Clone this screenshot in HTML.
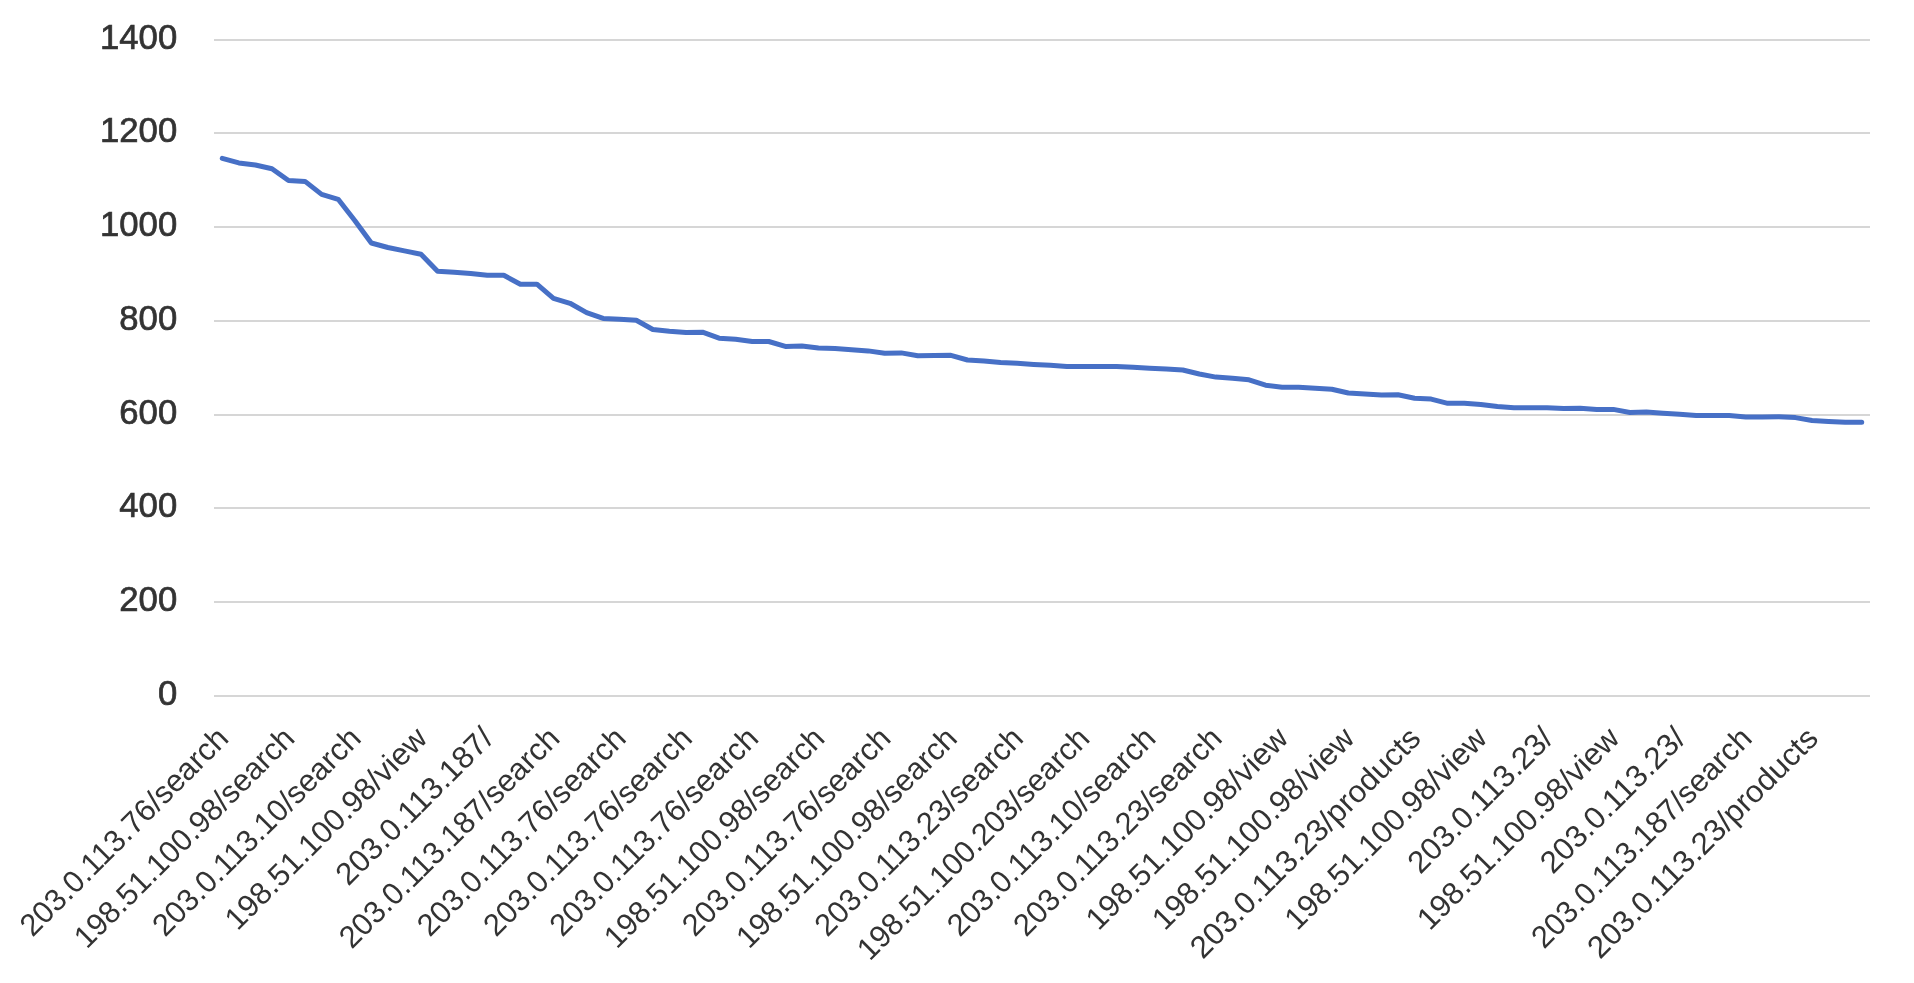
<!DOCTYPE html>
<html><head><meta charset="utf-8"><title>Chart</title><style>
html,body{margin:0;padding:0;background:#fff;width:1914px;height:983px;overflow:hidden}
svg{display:block;will-change:transform}
text{font-family:"Liberation Sans",sans-serif;fill:#333333;stroke:#333333}
</style></head><body>
<svg width="1914" height="983" viewBox="0 0 1914 983">
<rect width="1914" height="983" fill="#fff"/>
<rect x="214" y="695" width="1656" height="2" fill="#d6d6d6"/>
<rect x="214" y="601" width="1656" height="2" fill="#d6d6d6"/>
<rect x="214" y="507" width="1656" height="2" fill="#d6d6d6"/>
<rect x="214" y="414" width="1656" height="2" fill="#d6d6d6"/>
<rect x="214" y="320" width="1656" height="2" fill="#d6d6d6"/>
<rect x="214" y="226" width="1656" height="2" fill="#d6d6d6"/>
<rect x="214" y="132" width="1656" height="2" fill="#d6d6d6"/>
<rect x="214" y="39" width="1656" height="2" fill="#d6d6d6"/>
<text transform="translate(177.2,704.6) scale(1.0,1)" text-anchor="end" font-size="34.7" stroke-width="0.7">0</text>
<text transform="translate(177.2,610.9) scale(1.0,1)" text-anchor="end" font-size="34.7" stroke-width="0.7">200</text>
<text transform="translate(177.2,517.2) scale(1.0,1)" text-anchor="end" font-size="34.7" stroke-width="0.7">400</text>
<text transform="translate(177.2,423.5) scale(1.0,1)" text-anchor="end" font-size="34.7" stroke-width="0.7">600</text>
<text transform="translate(177.2,329.8) scale(1.0,1)" text-anchor="end" font-size="34.7" stroke-width="0.7">800</text>
<text transform="translate(177.2,236.1) scale(1.0,1)" text-anchor="end" font-size="34.7" stroke-width="0.7">1000</text>
<text transform="translate(177.2,142.4) scale(1.0,1)" text-anchor="end" font-size="34.7" stroke-width="0.7">1200</text>
<text transform="translate(177.2,48.6) scale(1.0,1)" text-anchor="end" font-size="34.7" stroke-width="0.7">1400</text>
<polyline points="222.28,158.4 238.84,162.9 255.40,165.0 271.96,168.7 288.52,180.5 305.08,181.4 321.64,194.4 338.20,199.3 354.76,220.5 371.32,243.0 387.88,247.5 404.44,250.9 421.00,254.2 437.56,271.2 454.12,272.2 470.68,273.5 487.24,275.3 503.80,275.3 520.36,284.3 536.92,284.2 553.48,298.4 570.04,303.3 586.60,312.6 603.16,318.4 619.72,319.3 636.28,320.2 652.84,329.5 669.40,331.3 685.96,332.6 702.52,332.2 719.08,338.2 735.64,339.3 752.20,341.5 768.76,341.5 785.32,346.4 801.88,346.0 818.44,348.1 835.00,348.6 851.56,349.7 868.12,350.9 884.68,353.3 901.24,352.9 917.80,355.8 934.36,355.6 950.92,355.3 967.48,360.0 984.04,360.9 1000.60,362.4 1017.16,363.3 1033.72,364.4 1050.28,365.3 1066.84,366.5 1083.40,366.5 1099.96,366.5 1116.52,366.4 1133.08,367.3 1149.64,368.2 1166.20,369.1 1182.76,370.0 1199.32,374.0 1215.88,377.1 1232.44,378.2 1249.00,379.8 1265.56,385.2 1282.12,387.2 1298.68,387.2 1315.24,388.3 1331.80,389.2 1348.36,393.0 1364.92,393.9 1381.48,395.0 1398.04,394.8 1414.60,398.2 1431.16,399.1 1447.72,403.3 1464.28,403.3 1480.84,404.4 1497.40,406.5 1513.96,407.7 1530.52,407.7 1547.08,407.7 1563.64,408.6 1580.20,408.3 1596.76,409.4 1613.32,409.4 1629.88,412.5 1646.44,412.1 1663.00,413.2 1679.56,414.3 1696.12,415.6 1712.68,415.6 1729.24,415.6 1745.80,416.9 1762.36,416.9 1778.92,416.7 1795.48,417.6 1812.04,420.5 1828.60,421.4 1845.16,422.3 1861.72,422.3" fill="none" stroke="#4770C6" stroke-width="5.0" stroke-linejoin="round" stroke-linecap="round"/>
<text transform="translate(230.13,740.15) rotate(-45)" text-anchor="end" font-size="31.0" stroke-width="0" textLength="279.6" lengthAdjust="spacingAndGlyphs">203.0.113.76/search</text>
<text transform="translate(296.37,740.15) rotate(-45)" text-anchor="end" font-size="31.0" stroke-width="0" textLength="296.5" lengthAdjust="spacingAndGlyphs">198.51.100.98/search</text>
<text transform="translate(362.61,740.15) rotate(-45)" text-anchor="end" font-size="31.0" stroke-width="0" textLength="279.6" lengthAdjust="spacingAndGlyphs">203.0.113.10/search</text>
<text transform="translate(428.85,740.15) rotate(-45)" text-anchor="end" font-size="31.0" stroke-width="0" textLength="270.7" lengthAdjust="spacingAndGlyphs">198.51.100.98/view</text>
<text transform="translate(495.09,740.15) rotate(-45)" text-anchor="end" font-size="31.0" stroke-width="0" textLength="207.5" lengthAdjust="spacingAndGlyphs">203.0.113.187/</text>
<text transform="translate(561.33,740.15) rotate(-45)" text-anchor="end" font-size="31.0" stroke-width="0" textLength="296.5" lengthAdjust="spacingAndGlyphs">203.0.113.187/search</text>
<text transform="translate(627.57,740.15) rotate(-45)" text-anchor="end" font-size="31.0" stroke-width="0" textLength="279.6" lengthAdjust="spacingAndGlyphs">203.0.113.76/search</text>
<text transform="translate(693.81,740.15) rotate(-45)" text-anchor="end" font-size="31.0" stroke-width="0" textLength="279.6" lengthAdjust="spacingAndGlyphs">203.0.113.76/search</text>
<text transform="translate(760.05,740.15) rotate(-45)" text-anchor="end" font-size="31.0" stroke-width="0" textLength="279.6" lengthAdjust="spacingAndGlyphs">203.0.113.76/search</text>
<text transform="translate(826.29,740.15) rotate(-45)" text-anchor="end" font-size="31.0" stroke-width="0" textLength="296.5" lengthAdjust="spacingAndGlyphs">198.51.100.98/search</text>
<text transform="translate(892.53,740.15) rotate(-45)" text-anchor="end" font-size="31.0" stroke-width="0" textLength="279.6" lengthAdjust="spacingAndGlyphs">203.0.113.76/search</text>
<text transform="translate(958.77,740.15) rotate(-45)" text-anchor="end" font-size="31.0" stroke-width="0" textLength="296.5" lengthAdjust="spacingAndGlyphs">198.51.100.98/search</text>
<text transform="translate(1025.01,740.15) rotate(-45)" text-anchor="end" font-size="31.0" stroke-width="0" textLength="279.6" lengthAdjust="spacingAndGlyphs">203.0.113.23/search</text>
<text transform="translate(1091.25,740.15) rotate(-45)" text-anchor="end" font-size="31.0" stroke-width="0" textLength="313.4" lengthAdjust="spacingAndGlyphs">198.51.100.203/search</text>
<text transform="translate(1157.49,740.15) rotate(-45)" text-anchor="end" font-size="31.0" stroke-width="0" textLength="279.6" lengthAdjust="spacingAndGlyphs">203.0.113.10/search</text>
<text transform="translate(1223.73,740.15) rotate(-45)" text-anchor="end" font-size="31.0" stroke-width="0" textLength="279.6" lengthAdjust="spacingAndGlyphs">203.0.113.23/search</text>
<text transform="translate(1289.97,740.15) rotate(-45)" text-anchor="end" font-size="31.0" stroke-width="0" textLength="270.7" lengthAdjust="spacingAndGlyphs">198.51.100.98/view</text>
<text transform="translate(1356.21,740.15) rotate(-45)" text-anchor="end" font-size="31.0" stroke-width="0" textLength="270.7" lengthAdjust="spacingAndGlyphs">198.51.100.98/view</text>
<text transform="translate(1422.45,740.15) rotate(-45)" text-anchor="end" font-size="31.0" stroke-width="0" textLength="310.8" lengthAdjust="spacingAndGlyphs">203.0.113.23/products</text>
<text transform="translate(1488.69,740.15) rotate(-45)" text-anchor="end" font-size="31.0" stroke-width="0" textLength="270.7" lengthAdjust="spacingAndGlyphs">198.51.100.98/view</text>
<text transform="translate(1554.93,740.15) rotate(-45)" text-anchor="end" font-size="31.0" stroke-width="0" textLength="190.6" lengthAdjust="spacingAndGlyphs">203.0.113.23/</text>
<text transform="translate(1621.17,740.15) rotate(-45)" text-anchor="end" font-size="31.0" stroke-width="0" textLength="270.7" lengthAdjust="spacingAndGlyphs">198.51.100.98/view</text>
<text transform="translate(1687.41,740.15) rotate(-45)" text-anchor="end" font-size="31.0" stroke-width="0" textLength="190.6" lengthAdjust="spacingAndGlyphs">203.0.113.23/</text>
<text transform="translate(1753.65,740.15) rotate(-45)" text-anchor="end" font-size="31.0" stroke-width="0" textLength="296.5" lengthAdjust="spacingAndGlyphs">203.0.113.187/search</text>
<text transform="translate(1819.89,740.15) rotate(-45)" text-anchor="end" font-size="31.0" stroke-width="0" textLength="310.8" lengthAdjust="spacingAndGlyphs">203.0.113.23/products</text>
</svg>
</body></html>
